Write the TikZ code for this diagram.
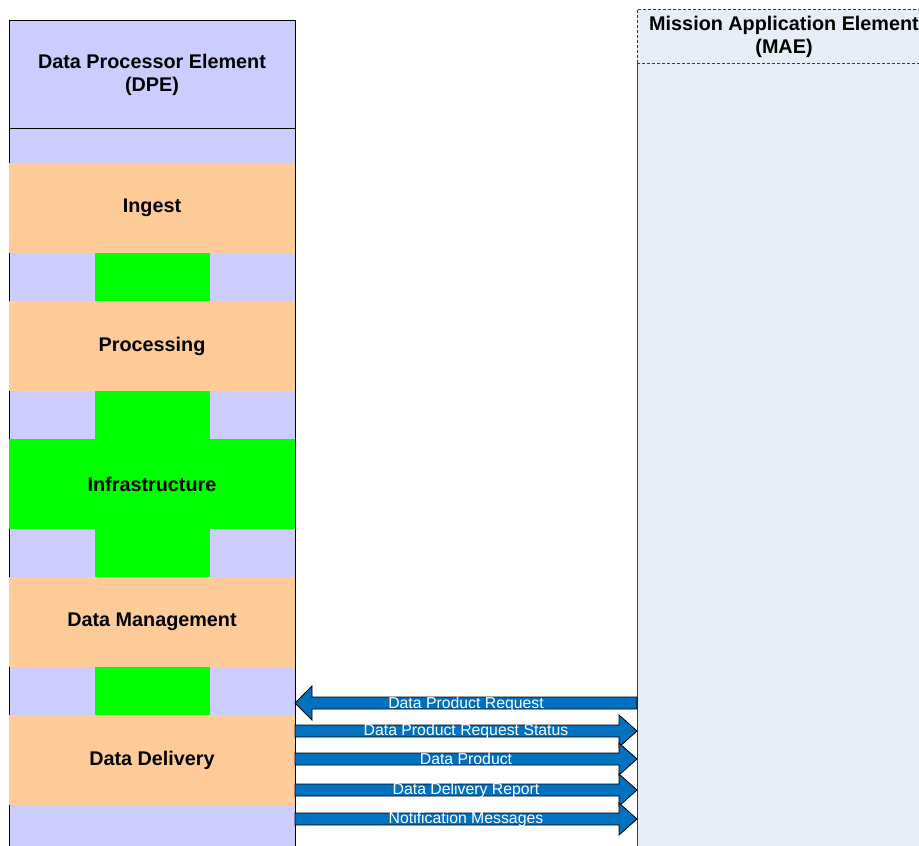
\documentclass[tikz,border=0pt]{standalone}
\usepackage{fontspec}
\setmainfont{Liberation Sans}
\usetikzlibrary{positioning}
\definecolor{dpelav}{RGB}{204,204,255}
\definecolor{dpeorg}{RGB}{255,204,153}
\definecolor{dpegrn}{RGB}{0,255,0}
\definecolor{maebg}{RGB}{232,238,248}
\definecolor{maeedge}{RGB}{60,60,60}
\definecolor{flowblue}{RGB}{0,112,192}
\tikzset{
  frame/.style={inner sep=0pt, outer sep=0pt, anchor=north west},
  band/.style={
    fill=dpeorg, minimum width=286pt, minimum height=90pt,
    inner sep=0pt, outer sep=0pt, font=\fontsize{19.8}{23}\selectfont\bfseries
  },
  link/.style={fill=dpegrn, minimum width=115pt, minimum height=48pt, inner sep=0pt, outer sep=0pt},
  headtxt/.style={align=center, font=\fontsize{19.8}{22.5}\selectfont\bfseries},
  flow/.style={fill=flowblue, draw=black, line width=0.8pt, line join=miter},
  flowlbl/.style={text=white, font=\fontsize{15.8}{18}\selectfont, inner sep=0pt},
  maeline/.style={draw=maeedge, line width=0.8pt},
  maedash/.style={maeline, dash pattern=on 3pt off 2pt}
}
\begin{document}
\begin{tikzpicture}[x=1pt, y=-1pt]
  \useasboundingbox[fill=white] (0,0) rectangle (919,846);
  \clip (0,0) rectangle (919,846);

  % mission application element
  \node[frame, fill=maebg, minimum width=294pt, minimum height=900pt] (mae) at (637,9) {};
  \draw[maedash] (637,63) -- (637,9) -- (931,9);
  \draw[maedash] (637,63) -- (931,63);
  \draw[maeline] (637,63) -- (637,900);
  \node[headtxt] (maehead) at (784,37) {Mission Application Element\\(MAE)};

  % data processor element
  \node[frame, fill=dpelav, draw=black, line width=0.8pt, minimum width=286pt, minimum height=860pt] (dpe) at (9,20) {};
  \draw[line width=0.8pt] (9,128) -- (295,128);
  \node[headtxt] (dpehead) at (152,75) {Data Processor Element\\(DPE)};

  \node[band, anchor=north] (ingest) at (152,163) {Ingest};
  \node[band, below=48pt of ingest] (proc) {Processing};
  \node[band, fill=dpegrn, below=48pt of proc] (infra) {Infrastructure};
  \node[band, below=48pt of infra] (dmgmt) {Data Management};
  \node[band, below=48pt of dmgmt] (deliv) {Data Delivery};

  \node[link, below=0pt of ingest] (lnk1) {};
  \node[link, below=0pt of proc] (lnk2) {};
  \node[link, below=0pt of infra] (lnk3) {};
  \node[link, below=0pt of dmgmt] (lnk4) {};

  % interfaces
  \draw[flow] (637,697) -- (312,697) -- (312,686) -- (295,703) -- (312,720) -- (312,709) -- (637,709) -- cycle;
  \node[flowlbl] (req) at (466,704) {Data Product Request};
  \foreach \yy/\txt [count=\i] in {731/Data Product Request Status, 759/Data Product,
      790/Data Delivery Report, 819/Notification Messages} {
    \draw[flow] (295,\yy-6) -- (619,\yy-6) -- (619,\yy-16) -- (637,\yy)
      -- (619,\yy+16) -- (619,\yy+6) -- (295,\yy+6) -- cycle;
    \node[flowlbl] (out\i) at (466,\yy) {\txt};
  }
\end{tikzpicture}
\end{document}
